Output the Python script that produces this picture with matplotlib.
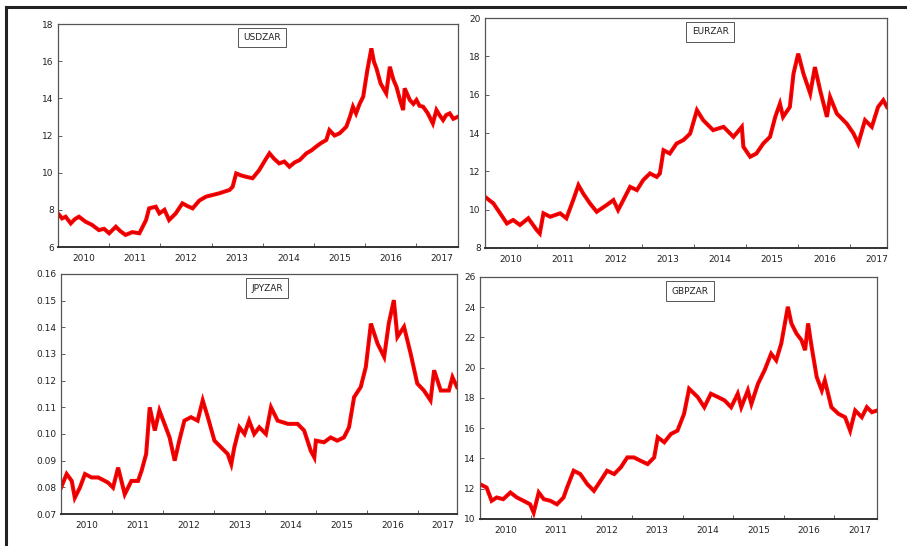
import numpy as np
import matplotlib
matplotlib.use("Agg")
import matplotlib.pyplot as plt
from matplotlib.lines import Line2D

# values (time as fractional year)
usd_t = [2010.00, 2010.08, 2010.15, 2010.25, 2010.33, 2010.41, 2010.54, 2010.66, 2010.80, 2010.90,
         2011.00, 2011.13, 2011.22, 2011.32, 2011.45, 2011.59, 2011.72, 2011.78, 2011.91, 2011.98,
         2012.08, 2012.17, 2012.30, 2012.43, 2012.53, 2012.63, 2012.76, 2012.89, 2013.02, 2013.15,
         2013.35, 2013.41, 2013.48, 2013.58, 2013.67, 2013.80, 2013.93, 2014.03, 2014.13, 2014.22,
         2014.32, 2014.42, 2014.52, 2014.62, 2014.72, 2014.85, 2014.95, 2015.04, 2015.14, 2015.24,
         2015.30, 2015.40, 2015.50, 2015.63, 2015.70, 2015.76, 2015.82, 2015.89, 2015.96, 2016.04,
         2016.12, 2016.17, 2016.22, 2016.30, 2016.41, 2016.48, 2016.55, 2016.61, 2016.68, 2016.74,
         2016.77, 2016.87, 2016.94, 2017.00, 2017.06, 2017.13, 2017.22, 2017.32, 2017.39, 2017.45,
         2017.52, 2017.58, 2017.65, 2017.72, 2017.81]
usd_v = [7.81, 7.54, 7.63, 7.27, 7.50, 7.63, 7.36, 7.20, 6.91, 6.98,
         6.74, 7.09, 6.85, 6.65, 6.80, 6.74, 7.45, 8.08, 8.17, 7.81,
         8.00, 7.45, 7.81, 8.35, 8.20, 8.08, 8.50, 8.71, 8.80, 8.89,
         9.07, 9.24, 9.96, 9.85, 9.78, 9.70, 10.14, 10.60, 11.04, 10.75,
         10.50, 10.60, 10.32, 10.55, 10.68, 11.04, 11.20, 11.40, 11.60, 11.76,
         12.29, 12.00, 12.12, 12.47, 13.00, 13.55, 13.19, 13.70, 14.09, 15.50,
         16.69, 15.97, 15.60, 14.80, 14.27, 15.70, 15.00, 14.62, 13.90, 13.37,
         14.54, 13.91, 13.70, 13.91, 13.60, 13.55, 13.20, 12.65, 13.37, 13.10,
         12.83, 13.10, 13.19, 12.90, 13.01]

eur_t = [2010.00, 2010.16, 2010.29, 2010.42, 2010.54, 2010.67, 2010.83, 2010.99, 2011.05, 2011.12,
         2011.25, 2011.44, 2011.56, 2011.69, 2011.79, 2011.88, 2012.01, 2012.14, 2012.33, 2012.46,
         2012.55, 2012.65, 2012.78, 2012.91, 2013.03, 2013.16, 2013.29, 2013.35, 2013.42, 2013.54,
         2013.67, 2013.80, 2013.93, 2014.06, 2014.18, 2014.37, 2014.57, 2014.76, 2014.92, 2014.95,
         2015.08, 2015.20, 2015.33, 2015.46, 2015.56, 2015.65, 2015.71, 2015.84, 2015.91, 2016.00,
         2016.10, 2016.23, 2016.32, 2016.42, 2016.55, 2016.61, 2016.74, 2016.93, 2017.06, 2017.15,
         2017.28, 2017.41, 2017.53, 2017.63, 2017.70]
eur_v = [10.67, 10.33, 9.81, 9.28, 9.46, 9.20, 9.55, 8.94, 8.76, 9.81,
         9.63, 9.81, 9.55, 10.50, 11.28, 10.85, 10.33, 9.89, 10.24, 10.50,
         9.98, 10.50, 11.19, 11.02, 11.54, 11.89, 11.71, 11.89, 13.10, 12.93,
         13.45, 13.63, 13.97, 15.19, 14.67, 14.15, 14.32, 13.80, 14.32, 13.28,
         12.76, 12.93, 13.45, 13.80, 14.84, 15.53, 14.84, 15.36, 17.10, 18.14,
         17.10, 16.06, 17.44, 16.23, 14.84, 15.88, 15.01, 14.49, 13.97, 13.45,
         14.67, 14.32, 15.36, 15.71, 15.36]

jpy_t = [2010.00, 2010.11, 2010.21, 2010.27, 2010.37, 2010.47, 2010.60, 2010.73, 2010.92, 2011.02,
         2011.12, 2011.25, 2011.38, 2011.51, 2011.58, 2011.67, 2011.74, 2011.84, 2011.93, 2012.03,
         2012.13, 2012.23, 2012.32, 2012.42, 2012.55, 2012.68, 2012.78, 2012.88, 2013.01, 2013.14,
         2013.27, 2013.34, 2013.40, 2013.50, 2013.60, 2013.69, 2013.79, 2013.89, 2014.02, 2014.12,
         2014.25, 2014.45, 2014.64, 2014.77, 2014.90, 2014.97, 2015.00, 2015.16, 2015.29, 2015.42,
         2015.55, 2015.65, 2015.75, 2015.88, 2015.98, 2016.08, 2016.21, 2016.34, 2016.43, 2016.53,
         2016.60, 2016.73, 2016.86, 2016.99, 2017.12, 2017.25, 2017.32, 2017.45, 2017.61, 2017.68,
         2017.77]
jpy_v = [0.0799, 0.0850, 0.0824, 0.0761, 0.0799, 0.0850, 0.0837, 0.0837, 0.0818, 0.0799,
         0.0874, 0.0774, 0.0824, 0.0824, 0.0862, 0.0925, 0.1100, 0.1013, 0.1088, 0.1038,
         0.0987, 0.0900, 0.0975, 0.1050, 0.1063, 0.1050, 0.1126, 0.1063, 0.0975, 0.0950,
         0.0925, 0.0887, 0.0950, 0.1025, 0.1000, 0.1050, 0.1000, 0.1025, 0.1000, 0.1100,
         0.1050, 0.1038, 0.1038, 0.1013, 0.0937, 0.0912, 0.0975, 0.0969, 0.0987, 0.0975,
         0.0987, 0.1025, 0.1138, 0.1176, 0.1251, 0.1414, 0.1339, 0.1289, 0.1414, 0.1502,
         0.1364, 0.1402, 0.1301, 0.1189, 0.1163, 0.1126, 0.1239, 0.1163, 0.1163, 0.1213,
         0.1176]

gbp_t = [2010.00, 2010.13, 2010.23, 2010.33, 2010.46, 2010.60, 2010.73, 2010.86, 2010.99, 2011.06,
         2011.16, 2011.26, 2011.39, 2011.52, 2011.65, 2011.72, 2011.85, 2011.98, 2012.12, 2012.25,
         2012.38, 2012.51, 2012.65, 2012.78, 2012.91, 2013.04, 2013.17, 2013.31, 2013.44, 2013.51,
         2013.64, 2013.77, 2013.90, 2014.03, 2014.13, 2014.30, 2014.43, 2014.56, 2014.70, 2014.83,
         2014.96, 2015.09, 2015.16, 2015.29, 2015.36, 2015.49, 2015.62, 2015.75, 2015.85, 2015.95,
         2016.08, 2016.15, 2016.25, 2016.35, 2016.42, 2016.48, 2016.55, 2016.65, 2016.75, 2016.81,
         2016.94, 2017.08, 2017.21, 2017.31, 2017.41, 2017.54, 2017.64, 2017.74, 2017.84]
gbp_v = [12.30, 12.08, 11.20, 11.42, 11.31, 11.75, 11.42, 11.20, 10.97, 10.42,
         11.75, 11.31, 11.20, 10.97, 11.42, 12.08, 13.19, 12.97, 12.30, 11.86,
         12.52, 13.19, 12.97, 13.41, 14.07, 14.07, 13.85, 13.63, 14.07, 15.40,
         15.07, 15.62, 15.84, 16.95, 18.61, 18.06, 17.39, 18.28, 18.06, 17.84,
         17.39, 18.28, 17.39, 18.50, 17.61, 18.94, 19.83, 20.93, 20.49, 21.60,
         24.03, 22.93, 22.26, 21.82, 21.16, 22.93, 21.37, 19.38, 18.50, 19.16,
         17.39, 16.95, 16.73, 15.84, 17.17, 16.73, 17.39, 17.06, 17.17]

years = [2010, 2011, 2012, 2013, 2014, 2015, 2016, 2017]

panels = [
    ("USDZAR", usd_t, usd_v, [6, 8, 10, 12, 14, 16, 18], "{:.0f}", [0.0639, 0.5476, 0.4410, 0.4084], 0.51),
    ("EURZAR", eur_t, eur_v, [8, 10, 12, 14, 16, 18, 20], "{:.0f}", [0.5347, 0.5458, 0.4432, 0.4212], 0.56),
    ("JPYZAR", jpy_t, jpy_v, [0.07, 0.08, 0.09, 0.10, 0.11, 0.12, 0.13, 0.14, 0.15, 0.16], "{:.2f}",
     [0.0673, 0.0586, 0.4366, 0.4396], 0.52),
    ("GBPZAR", gbp_t, gbp_v, [10, 12, 14, 16, 18, 20, 22, 24, 26], "{:.0f}", [0.5292, 0.0495, 0.4377, 0.4432], 0.53),
]

fig = plt.figure(figsize=(9.07, 5.46), dpi=100)

for name, t, v, yt, fmt, pos, lx in panels:
    ax = fig.add_axes(pos)
    ax.plot(t, v, color="red", lw=2.9, solid_joinstyle="miter")
    ax.plot(t, v, color="#8a0000", lw=0.5, alpha=0.6)
    ax.set_xlim(t[0], t[-1])
    ax.set_ylim(yt[0], yt[-1])
    ax.set_yticks(yt)
    ax.set_yticklabels([fmt.format(y) for y in yt])
    # year boundaries as ticks, year labels centred in each year
    ax.set_xticks([y for y in years[1:]])
    ax.set_xticklabels([])
    ax.set_xticks([y + 0.5 for y in years], minor=True)
    ax.set_xticklabels([str(y) for y in years], minor=True)
    ax.tick_params(axis="x", which="major", direction="in", length=3, width=0.6, color="#444444")
    ax.tick_params(axis="x", which="minor", length=0, labelsize=6.5, pad=5, labelcolor="#222222")
    ax.tick_params(axis="y", direction="in", length=3, width=0.6, labelsize=6.5, pad=3,
                   labelcolor="#222222", color="#444444")
    for s in ax.spines.values():
        s.set_color("#555555")
        s.set_linewidth(0.9)
    ax.spines["bottom"].set_color("#333333")
    ax.spines["bottom"].set_linewidth(1.4)
    ax.text(lx, 0.96, name, transform=ax.transAxes, ha="center", va="top", fontsize=6.5,
            color="#222222",
            bbox=dict(boxstyle="square,pad=0.6", fc="white", ec="#555555", lw=0.7))

# dark frame on left and top of the screenshot
fig.add_artist(Line2D([0.0066, 0.0066], [0.0, 0.988], color="#222222", lw=2.2, transform=fig.transFigure))
fig.add_artist(Line2D([0.0066, 1.0], [0.988, 0.988], color="#222222", lw=2.2, transform=fig.transFigure))

fig.savefig("out.png", dpi=100)
